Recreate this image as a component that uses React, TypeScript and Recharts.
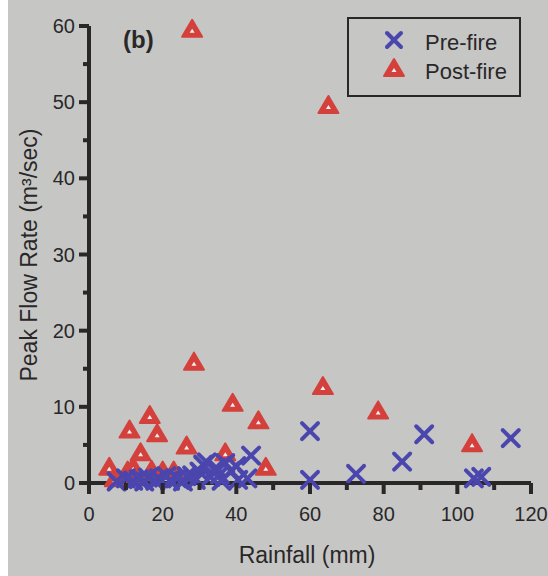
import { ScatterChart, Scatter, XAxis, YAxis, Legend, Label } from 'recharts';

const preRain = [7.5, 10, 12, 13.5, 15, 16, 18, 19, 21, 22, 24, 25.5, 26.5, 28, 29, 30, 31, 32, 33, 34.5, 35.5, 36, 37, 38.5, 40, 40.5, 43, 44, 60, 60, 72.5, 85, 91, 104.5, 106.5, 114.5];
const prePeak = [0.2, 0.6, 0.3, 0.5, 0.2, 0.7, 0.3, 0.6, 0.9, 0.3, 0.6, 0.2, 0.9, 1.0, 0.4, 1.5, 2.4, 2.7, 0.8, 2.0, 1.1, 0.3, 2.6, 1.6, 2.2, 0.4, 0.6, 3.6, 6.8, 0.4, 1.2, 2.8, 6.4, 0.6, 0.8, 5.9];

const postRain = [5.5, 7, 10.5, 11, 12, 13, 14, 16.5, 17, 18.5, 20, 23, 26.5, 28, 28.5, 37, 39, 46, 48, 63.5, 65, 78.5, 104];
const postPeak = [2.0, 0.5, 1.5, 6.9, 2.0, 1.0, 3.9, 8.8, 1.6, 6.4, 1.5, 1.5, 4.8, 59.5, 15.8, 3.9, 10.4, 8.1, 2.0, 12.6, 49.5, 9.4, 5.1];

const xTicks = [0, 10, 20, 30, 40, 50, 60, 70, 80, 90, 100, 110, 120];
const yTicks = [0, 5, 10, 15, 20, 25, 30, 35, 40, 45, 50, 55, 60];

const preData = preRain.map((r, i) => ({ rain: r, peak: prePeak[i] }));
const postData = postRain.map((r, i) => ({ rain: r, peak: postPeak[i] }));

const FONT = '"Liberation Sans", Arial, sans-serif';
const INK = '#2a2729';
const BLUE = '#4a46ae';
const RED = '#d4403b';

const Cross = ({ cx, cy, s = 8 }: any) => (
  <g stroke={BLUE} strokeWidth={4} strokeLinecap="round">
    <line x1={cx - s} y1={cy - s} x2={cx + s} y2={cy + s} />
    <line x1={cx - s} y1={cy + s} x2={cx + s} y2={cy - s} />
  </g>
);

const Tri = ({ cx, cy }: any) => (
  <g>
    <path
      d={`M${cx},${cy - 10} L${cx + 10},${cy + 7} L${cx - 10},${cy + 7} Z`}
      fill={RED}
      stroke={RED}
      strokeWidth={2}
      strokeLinejoin="round"
    />
    <path d={`M${cx},${cy - 1} L${cx + 2.5},${cy + 3} L${cx - 2.5},${cy + 3} Z`} fill="#f4eeee" />
  </g>
);

// tick marks drawn here: long on labelled values, short in between
const XTick = ({ x, y, payload }: any) => {
  const major = payload.value % 20 === 0;
  return (
    <g>
      <rect x={x - 2} y={y} width={4} height={major ? 11 : 7} fill={INK} />
      {major && (
        <text x={x} y={y + 38} textAnchor="middle" fontSize={20} fill={INK} fontFamily={FONT}>
          {payload.value}
        </text>
      )}
    </g>
  );
};

const YTick = ({ x, y, payload }: any) => {
  const major = payload.value % 10 === 0;
  const len = major ? 10 : 6;
  return (
    <g>
      <rect x={x - len} y={y - 2} width={len} height={4} fill={INK} />
      {major && (
        <text x={x - 14} y={y + 7} textAnchor="end" fontSize={20} fill={INK} fontFamily={FONT}>
          {payload.value}
        </text>
      )}
    </g>
  );
};

const LegendBox = () => (
  <div
    style={{
      position: 'relative',
      width: 170,
      height: 76,
      border: `2px solid ${INK}`,
      fontFamily: FONT,
      fontSize: 22,
      color: INK,
    }}
  >
    <svg width={40} height={70} style={{ position: 'absolute', left: 25, top: 0 }}>
      <Cross cx={20} cy={21} s={7} />
      <Tri cx={20} cy={50} />
    </svg>
    <span style={{ position: 'absolute', left: 76, top: 11 }}>Pre-fire</span>
    <span style={{ position: 'absolute', left: 76, top: 40 }}>Post-fire</span>
  </div>
);

export default function App() {
  return (
    <div style={{ position: 'absolute', top: 0, left: 8, width: 540, height: 576, background: '#c6c7c5' }}>
      <ScatterChart width={540} height={576} margin={{ top: 26, right: 17, bottom: 0, left: 0 }}>
        <XAxis
          type="number"
          dataKey="rain"
          domain={[0, 120]}
          ticks={xTicks}
          interval={0}
          height={93}
          tickSize={0}
          tickMargin={0}
          tickLine={false}
          tick={<XTick />}
          axisLine={{ stroke: INK, strokeWidth: 4 }}
        >
          <Label
            content={() => (
              <text x={299} y={563} textAnchor="middle" fontSize={23} fill={INK} fontFamily={FONT}>
                Rainfall (mm)
              </text>
            )}
          />
        </XAxis>
        <YAxis
          type="number"
          dataKey="peak"
          domain={[0, 60]}
          ticks={yTicks}
          interval={0}
          width={81}
          tickSize={0}
          tickMargin={0}
          tickLine={false}
          tick={<YTick />}
          axisLine={{ stroke: INK, strokeWidth: 4 }}
        >
          <Label
            content={() => (
              <text
                x={29}
                y={255}
                transform="rotate(-90 29 255)"
                textAnchor="middle"
                fontSize={23}
                fill={INK}
                fontFamily={FONT}
              >
                Peak Flow Rate (m³/sec)
              </text>
            )}
          />
          <Label
            content={() => (
              <text x={115} y={48} fontSize={24} fontWeight="bold" fill={INK} fontFamily={FONT}>
                (b)
              </text>
            )}
          />
        </YAxis>
        <Legend
          layout="vertical"
          align="center"
          verticalAlign="middle"
          content={<LegendBox />}
          wrapperStyle={{ top: 17, left: 339, width: 174 }}
        />
        <Scatter name="Post-fire" data={postData} shape={<Tri />} isAnimationActive={false} />
        <Scatter name="Pre-fire" data={preData} shape={<Cross />} isAnimationActive={false} />
      </ScatterChart>
    </div>
  );
}
